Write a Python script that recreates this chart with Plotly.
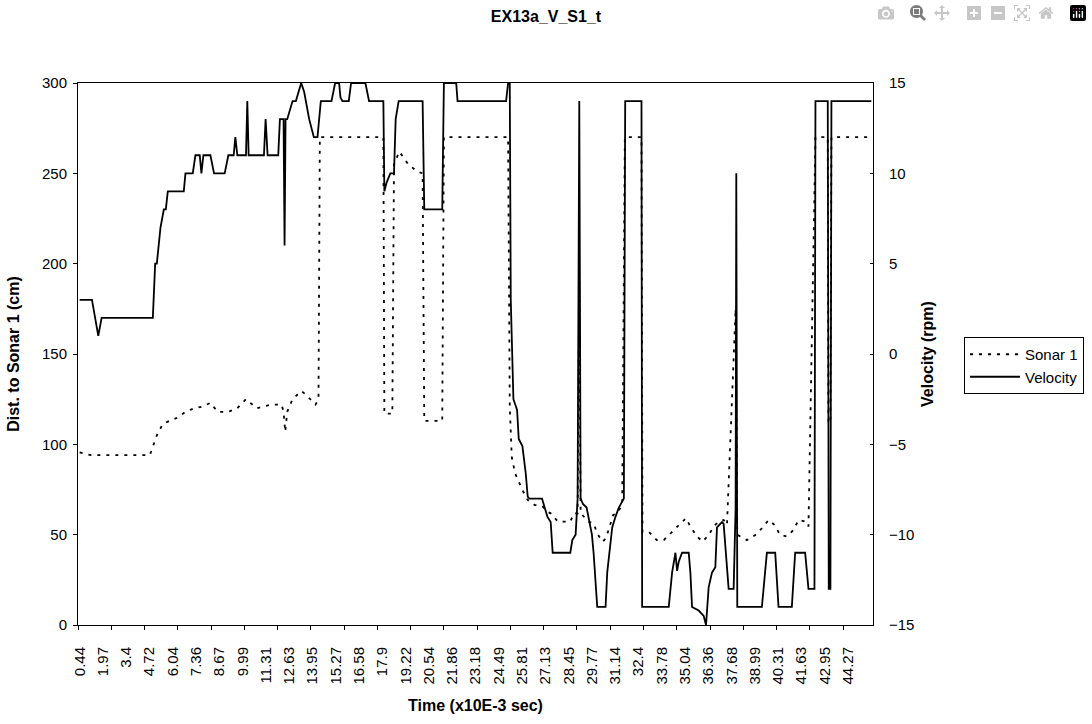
import plotly.graph_objects as go

# ---- tick labels of the time axis (category-style axis, one label every 7 samples)
time_labels = ["0.44", "1.97", "3.4", "4.72", "6.04", "7.36", "8.67", "9.99", "11.31", "12.63",
               "13.95", "15.27", "16.58", "17.9", "19.22", "20.54", "21.86", "23.18", "24.49",
               "25.81", "27.13", "28.45", "29.77", "31.14", "32.4", "33.78", "35.04", "36.36",
               "37.68", "38.99", "40.31", "41.63", "42.95", "44.27"]
LABEL_EVERY = 7
TICK_EVERY = 10
N_SAMPLES = 239

# ---- Velocity (rpm): sample position along time axis, value
vel_x = [0, 3.7, 5.6, 6.6, 22.0, 22.3, 22.7, 23.2, 24.3, 25.3, 25.9, 26.5, 31.3, 31.8, 34.0, 34.8,
         36.1, 36.6, 37.2, 39.3, 40.4, 43.6, 44.7, 46.3, 46.8, 47.4, 50.0, 50.4, 50.8, 55.4, 55.9,
         56.5, 59.7, 60.2, 61.3, 61.6, 61.9, 62.4, 64.0, 65.0, 66.6, 67.5, 69.0, 70.4, 71.5, 72.5,
         75.7, 76.8, 78.0, 78.4, 79.0, 80.9, 81.6, 85.9, 87.0, 91.3, 91.6, 92.3, 93.4, 94.5, 95.0,
         95.9, 103.1, 103.6, 109.0, 109.5, 113.2, 113.6, 128.2, 128.8, 129.3, 129.6, 129.9, 130.4,
         131.5, 132.0, 133.1, 134.1, 134.7, 135.2, 139.0, 139.5, 140.6, 141.6, 142.2, 147.5, 148.1,
         149.1, 149.7, 150.2, 150.6, 151.3, 152.4, 154.0, 154.5, 155.6, 158.1, 158.6, 159.6, 160.1,
         161.1, 162.1, 163.0, 163.6, 164.0, 168.9, 169.1, 177.1, 178.1, 179.1, 179.6, 180.1, 181.1,
         183.1, 183.6, 184.1, 186.1, 187.6, 188.3, 189.1, 190.1, 191.1, 191.6, 192.6, 193.1, 193.6,
         194.6, 195.1, 196.6, 197.2, 197.4, 197.7, 205.1, 206.1, 206.6, 209.1, 210.1, 214.1, 215.1,
         218.1, 219.1, 220.9, 221.2, 224.9, 225.2, 225.7, 226.0, 238]
vel_rpm = [3, 3, 1, 2, 2, 3.5, 5, 5, 7, 8, 8, 9, 9, 10, 10, 11,
           11, 10, 11, 11, 10, 10, 11, 11, 12, 11, 11, 14, 11, 11, 13,
           11, 11, 13, 13, 6, 13, 13, 14, 14, 15, 14.5, 13, 12, 12, 14,
           14, 15, 15, 14.2, 14, 14, 15, 15, 14, 14, 9, 9.5, 10, 10, 13,
           14, 14, 8, 8, 15, 15, 14, 14, 15, 15, 3, 0.5, -2.5,
           -3.1, -4.7, -5.1, -6.6, -7.9, -8, -8, -8.3, -9, -9.3, -11, -11, -10.3,
           -10, -8, 14, -8, -8.3, -8.5, -10, -11, -14, -14, -12.1, -10.3, -9.6,
           -9, -8.5, -8.2, -8, 14, 14, -14, -14, -12.1, -11, -12, -11.5, -11,
           -11, -12.1, -14, -14.2, -14.5, -15, -12.9, -12.1, -11.8, -9.6, -9.4, -9.3, -9.4,
           -12.1, -13, -13, -8.5, 10, -14, -14, -12.1, -11, -11, -14, -14, -11,
           -11, -13, -13, 14, 14, -13, -13, 14, 14]

# ---- Sonar 1 distance (cm)
sonar_x = [0, 3.4, 21.1, 22.2, 23.2, 24.9, 27.0, 29.7, 31.8, 34.5, 37.2, 39.3, 41.5, 44.7, 47.4,
           50.0, 53.2, 57.5, 60.7, 61.3, 61.8, 62.4, 64.0, 66.6, 67.7, 69.3, 70.9, 71.8, 72.2,
           91.3, 91.6, 94.0, 94.5, 96.1, 98.8, 101.5, 103.1, 103.6, 109.0, 109.5, 128.8, 129.3,
           129.9, 130.9, 133.1, 134.7, 136.8, 139.0, 140.6, 141.6, 143.8, 147.5, 148.6, 149.7,
           150.2, 150.6, 152.9, 154.5, 155.6, 157.2, 158.2, 159.3, 160.4, 161.5, 163.1, 163.9,
           168.9, 169.2, 171.1, 173.5, 175.6, 178.1, 180.1, 182.3, 183.6, 185.6, 187.3, 189.1,
           190.6, 192.1, 193.6, 194.6, 197.2, 197.7, 200.6, 203.1, 205.6, 207.1, 208.9, 210.6,
           212.6, 214.6, 216.1, 218.1, 219.1, 221.2, 224.9, 225.1, 225.7, 226.0, 238]
sonar_cm = [95.5, 94, 94, 100, 105, 111, 113, 115, 118, 120, 121, 123, 118, 118, 120,
            125, 120, 122, 122, 118, 107, 118, 125, 129.5, 128, 125, 122, 125, 270,
            270, 117, 117, 255, 262, 255, 251, 250, 113, 113, 270, 270, 121,
            93, 84, 74.7, 69.2, 66.4, 66, 62.7, 61.8, 57.2, 57.2, 61.8, 61.8,
            190, 62, 57.2, 56.3, 50.7, 46.1, 48, 54.4, 60.9, 61.8, 66.4, 270,
            270, 51.6, 51.6, 47, 47, 51.6, 55.4, 59.1, 54.5, 49, 46.1, 49.8,
            54.5, 57.3, 58.1, 55.4, 175, 50, 47, 49.8, 54.5, 58.1, 55.4, 49.8,
            49, 52.6, 58.1, 57.3, 54.5, 270, 270, 112, 112, 270, 270]

FONT = "Arial, Liberation Sans, sans-serif"

fig = go.Figure()
fig.add_trace(go.Scatter(x=sonar_x, y=sonar_cm, name="Sonar 1", mode="lines",
                         line=dict(color="black", width=1.8, dash="3px,6px"), yaxis="y"))
fig.add_trace(go.Scatter(x=vel_x, y=vel_rpm, name="Velocity", mode="lines",
                         line=dict(color="black", width=1.8), yaxis="y2"))

label_pos = [LABEL_EVERY * i for i in range(len(time_labels))]
minor_pos = [-0.5 + TICK_EVERY * k for k in range(N_SAMPLES // TICK_EVERY + 1)]

fig.update_layout(
    width=1092, height=724,
    margin=dict(l=78, r=219, t=83, b=99, autoexpand=False),
    paper_bgcolor="white", plot_bgcolor="white",
    font=dict(family=FONT, color="black", size=15),
    title=dict(text="<b>EX13a_V_S1_t</b>", x=0.5, xanchor="center", y=1 - 16 / 724,
               yanchor="middle", font=dict(size=16, family=FONT, color="black")),
    showlegend=True,
    legend=dict(x=(964 - 78) / 795, y=(625 - 337) / 542, xanchor="left", yanchor="top",
                bordercolor="black", borderwidth=1, bgcolor="white", itemwidth=50,
                font=dict(size=15, family=FONT, color="black")),
    xaxis=dict(range=[-0.5, N_SAMPLES - 0.5], tickmode="array", tickvals=label_pos,
               ticktext=time_labels, tickangle=-90, ticks="", ticklabelstandoff=15,
               minor=dict(tickmode="array", tickvals=minor_pos, ticks="outside", ticklen=4,
                          tickcolor="black", tickwidth=1, showgrid=False),
               showline=True, linecolor="black", linewidth=1, mirror=True,
               showgrid=False, zeroline=False, tickfont=dict(size=15),
               title=dict(text="<b>Time (x10E-3 sec)</b>", standoff=16,
                          font=dict(size=16))),
    yaxis=dict(range=[0, 300], tickmode="linear", tick0=0, dtick=50, ticks="outside",
               ticklen=4, tickcolor="black", showline=True, linecolor="black", linewidth=1,
               showgrid=False, zeroline=False, tickfont=dict(size=15), ticklabelstandoff=3,
               title=dict(text="<b>Dist. to Sonar 1 (cm)</b>", standoff=18,
                          font=dict(size=16))),
    yaxis2=dict(range=[-15, 15], overlaying="y", side="right", tickmode="linear", tick0=-15,
                dtick=5, ticks="inside", ticklen=3, tickcolor="black", showline=True,
                linecolor="black", linewidth=1, showgrid=False, zeroline=False,
                tickfont=dict(size=15), ticklabelstandoff=12,
                title=dict(text="<b>Velocity (rpm)</b>", standoff=8, font=dict(size=16))),
)

fig.write_html("out.html", post_script="document.body.style.margin='0';")
